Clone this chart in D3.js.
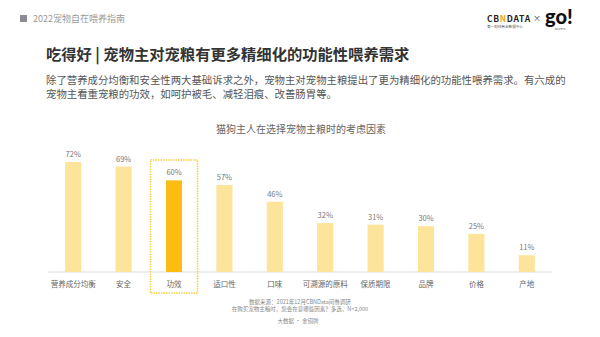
<!DOCTYPE html>
<html>
<head>
<meta charset="utf-8">
<script src="https://cdn.jsdelivr.net/npm/d3@7"></script>
<style>
  body { margin: 0; background: #fff; }
  svg { font-family: "Noto Sans CJK SC", "Noto Sans", sans-serif; }
</style>
</head>
<body>
<div class="chart"></div>
<script>
// chart data
const categories = ["营养成分均衡", "安全", "功效", "适口性", "口味", "可溯源的原料", "保质期限", "品牌", "价格", "产地"];
const values = [72, 69, 60, 57, 46, 32, 31, 30, 25, 11];
const highlight = "功效";

const paragraph = [
  "除了营养成分均衡和安全性两大基础诉求之外，宠物主对宠物主粮提出了更为精细化的功能性喂养需求。有六成的",
  "宠物主看重宠粮的功效，如呵护被毛、减轻泪痕、改善肠胃等。"
];
const notes = [
  "数据来源：2021年12月CBNData问卷调研",
  "在购买宠物主粮时，您会在意哪些因素？多选，N=2,000"
];

const W = 600, H = 337;
const BASE = 272;

const svg = d3.select(".chart").append("svg").attr("width", W).attr("height", H);

// header
svg.append("rect").attr("x", 20).attr("y", 15).attr("width", 7).attr("height", 7).attr("fill", "#8e8a96");
svg.append("text").attr("x", 33).attr("y", 22).attr("font-size", 9).attr("fill", "#9a9a9a")
  .text("2022宠物自在喂养指南");

// logos
const logo = svg.append("g");
const cbn = logo.append("text").attr("x", 487).attr("y", 22).attr("font-size", 8.5).attr("font-weight", "bold")
  .attr("letter-spacing", 0.7).attr("fill", "#222");
cbn.append("tspan").text("CB");
cbn.append("tspan").attr("fill", "#f2a51a").text("N");
cbn.append("tspan").text("DATA");
logo.append("text").attr("x", 487).attr("y", 28).attr("font-size", 3.6).attr("fill", "#555")
  .text("第一财经商业数据中心");
logo.append("text").attr("x", 537).attr("y", 21).attr("font-size", 8).attr("fill", "#444").attr("text-anchor", "middle").text("×");
logo.append("text").attr("x", 545).attr("y", 24).attr("font-size", 20).attr("font-weight", "900")
  .attr("font-family", "Lato, sans-serif").attr("fill", "#111").text("go!");
logo.append("text").attr("x", 560).attr("y", 29.5).attr("font-size", 2.6).attr("fill", "#555").attr("text-anchor", "middle").text("GO PETS");

// title and intro text
svg.append("text").attr("x", 46).attr("y", 60).attr("font-size", 15.3).attr("font-weight", "bold")
  .attr("fill", "#333").text("吃得好 | 宠物主对宠粮有更多精细化的功能性喂养需求");

svg.append("text").attr("font-size", 10.4).attr("fill", "#555")
  .selectAll("tspan").data(paragraph).join("tspan")
  .attr("x", 46).attr("y", (d, i) => 84 + i * 13.5)
  .text(d => d);

svg.append("text").attr("x", 301).attr("y", 133).attr("text-anchor", "middle")
  .attr("font-size", 10).attr("fill", "#666").text("猫狗主人在选择宠物主粮时的考虑因素");

// scales
const x = d3.scaleBand().domain(categories).range([48, 552]).paddingInner(0.68).paddingOuter(0.34);
const y = d3.scaleLinear().domain([0, 72]).range([BASE, 162]);

// highlight box
const hx = x(highlight) + x.bandwidth() / 2;
svg.append("rect")
  .attr("x", hx - 23.5).attr("y", 160).attr("width", 47).attr("height", 133)
  .attr("fill", "none").attr("stroke", "#f2d23c").attr("stroke-width", 1.5)
  .attr("stroke-dasharray", "1.5,1");

// axis
const xAxis = svg.append("g")
  .attr("transform", `translate(0, ${BASE})`)
  .call(d3.axisBottom(x).tickSize(0).tickPadding(10));
xAxis.select(".domain").attr("stroke", "#dcdcdc").attr("d", "M48,0H552");
xAxis.selectAll("text").attr("font-size", 7.5).attr("fill", "#666")
  .attr("font-family", "'Noto Sans CJK SC', sans-serif");

// bars
svg.append("g").selectAll("rect").data(values).join("rect")
  .attr("x", (d, i) => x(categories[i]))
  .attr("y", d => y(d))
  .attr("width", x.bandwidth())
  .attr("height", d => BASE - y(d))
  .attr("fill", (d, i) => categories[i] === highlight ? "#fbbd12" : "#fde49b");

// value labels
svg.append("g").selectAll("text").data(values).join("text")
  .attr("x", (d, i) => x(categories[i]) + x.bandwidth() / 2)
  .attr("y", d => y(d) - 5)
  .attr("text-anchor", "middle")
  .attr("font-size", 7.5).attr("fill", "#777")
  .text(d => d + "%");

// source notes
svg.append("text").attr("font-size", 5.5).attr("fill", "#888").attr("text-anchor", "middle")
  .selectAll("tspan").data(notes).join("tspan")
  .attr("x", 300).attr("y", (d, i) => 304 + i * 7)
  .text(d => d);
svg.append("text").attr("x", 298).attr("y", 323).attr("text-anchor", "middle")
  .attr("font-size", 5.5).attr("fill", "#888").text("大数据 · 金铜牌");
</script>
</body>
</html>
